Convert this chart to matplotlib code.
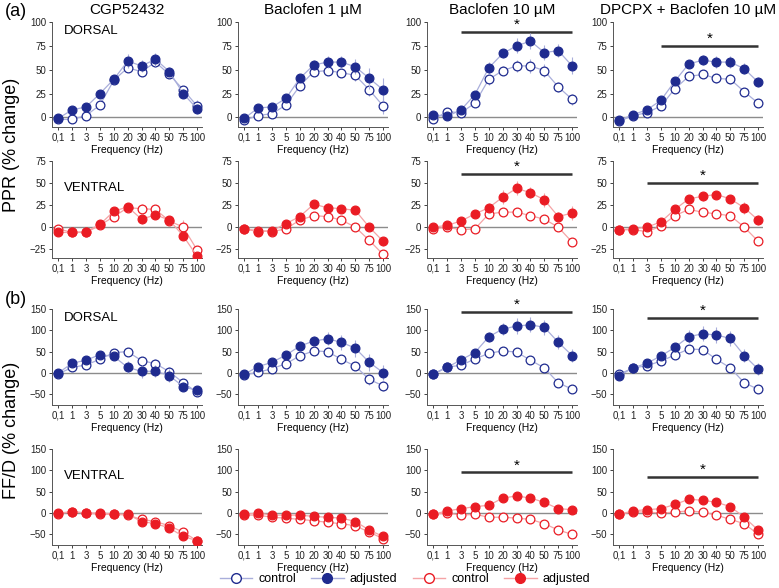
import numpy as np
import matplotlib
matplotlib.use('Agg')
import matplotlib.pyplot as plt
from matplotlib.lines import Line2D

plt.rcParams['font.family'] = ['Liberation Sans', 'DejaVu Sans']

# frequencies on the categorical x axis
freq_labels = ['0,1', '1', '3', '5', '10', '20', '30', '40', '50', '75', '100']
titles = ['CGP52432', 'Baclofen 1 µM', 'Baclofen 10 µM', 'DPCPX + Baclofen 10 µM']

# PPR dorsal
ppr_d_ctrl = [[-2, -2, 2, 13, 39, 52, 48, 58, 45, 29, 12],
              [-3, 2, 4, 13, 33, 48, 49, 47, 44, 29, 12],
              [-2, 6, 5, 15, 40, 49, 54, 54, 49, 32, 19],
              [-4, 2, 5, 12, 30, 43, 45, 41, 40, 27, 15]]
ppr_d_adj = [[-1, 8, 11, 25, 40, 59, 54, 61, 48, 25, 9],
             [-1, 10, 11, 20, 41, 55, 58, 58, 53, 41, 29],
             [3, 1, 8, 24, 52, 67, 75, 80, 68, 70, 54],
             [-3, 3, 8, 18, 38, 56, 60, 58, 58, 51, 37]]
ppr_d_ctrl_err = [[2, 2, 2, 3, 3, 4, 4, 5, 4, 4, 6],
                  [2, 2, 2, 3, 4, 4, 5, 5, 6, 7, 8],
                  [2, 2, 3, 4, 6, 5, 6, 7, 7, 5, 6],
                  [2, 2, 2, 3, 3, 3, 4, 5, 5, 3, 3]]
ppr_d_adj_err = [[2, 2, 4, 2, 3, 7, 6, 7, 5, 5, 5],
                 [2, 2, 3, 3, 3, 5, 6, 6, 8, 11, 12],
                 [2, 2, 3, 3, 6, 5, 8, 8, 8, 7, 9],
                 [2, 2, 2, 3, 4, 4, 5, 6, 6, 6, 5]]

# PPR ventral
ppr_v_ctrl = [[-2, -6, -6, 2, 12, 22, 21, 20, 7, 0, -26],
              [-2, -4, -5, -2, 8, 13, 12, 8, 0, -15, -31],
              [-2, 0, -3, -2, 15, 17, 17, 13, 9, 0, -17],
              [-3, -3, -5, 1, 13, 20, 17, 15, 13, 0, -16]]
ppr_v_adj = [[-6, -6, -5, 3, 18, 23, 9, 14, 8, -10, -33],
             [-2, -5, -4, 4, 12, 26, 22, 21, 19, 0, -16],
             [0, 2, 7, 15, 22, 34, 44, 39, 31, 12, 16],
             [-3, -2, 0, 6, 20, 32, 35, 37, 32, 22, 8]]
ppr_v_ctrl_err = [[3, 3, 3, 3, 4, 4, 5, 4, 4, 8, 4],
                  [2, 2, 2, 3, 4, 4, 5, 4, 4, 4, 4],
                  [3, 3, 4, 3, 4, 4, 5, 4, 5, 3, 4],
                  [2, 2, 2, 3, 3, 3, 4, 3, 3, 3, 3]]
ppr_v_adj_err = [[4, 3, 3, 3, 3, 4, 6, 4, 4, 3, 3],
                 [2, 3, 2, 3, 4, 4, 5, 4, 4, 4, 5],
                 [3, 3, 4, 4, 5, 8, 8, 6, 8, 5, 8],
                 [2, 2, 3, 3, 4, 5, 5, 4, 5, 7, 6]]

# FF/D dorsal
ffd_d_ctrl = [[-2, 13, 19, 32, 48, 50, 29, 22, 3, -23, -45],
              [-5, 2, 10, 22, 40, 52, 50, 32, 16, -15, -30],
              [-2, 14, 18, 33, 46, 52, 49, 30, 12, -23, -38],
              [-3, 12, 17, 28, 42, 56, 55, 32, 12, -23, -38]]
ffd_d_adj = [[0, 23, 30, 43, 39, 13, 4, 4, -6, -32, -41],
             [-3, 15, 25, 42, 63, 75, 80, 72, 58, 25, 1],
             [-3, 13, 31, 48, 85, 103, 110, 113, 107, 72, 41],
             [-6, 12, 23, 40, 60, 85, 92, 89, 81, 41, 9]]
ffd_d_ctrl_err = [[3, 4, 4, 5, 6, 8, 8, 10, 10, 8, 10],
                  [4, 4, 4, 5, 6, 6, 8, 10, 10, 12, 12],
                  [4, 4, 5, 5, 7, 6, 8, 8, 10, 6, 6],
                  [4, 4, 4, 5, 6, 6, 8, 9, 10, 6, 5]]
ffd_d_adj_err = [[4, 5, 5, 6, 8, 14, 15, 14, 15, 10, 10],
                 [4, 5, 6, 7, 9, 12, 15, 18, 20, 20, 18],
                 [4, 5, 6, 7, 12, 15, 18, 18, 18, 16, 15],
                 [4, 5, 6, 7, 10, 15, 18, 18, 18, 16, 14]]

# FF/D ventral
ffd_v_ctrl = [[-2, 3, 0, -3, -3, -5, -15, -20, -30, -45, -65],
              [-5, -5, -10, -12, -15, -18, -22, -25, -30, -45, -60],
              [-3, 0, -5, -3, -10, -10, -12, -15, -25, -40, -50],
              [-3, 3, 2, 0, 2, 5, 2, -5, -15, -25, -50]]
ffd_v_adj = [[0, 3, 0, 0, -2, -3, -20, -25, -35, -55, -65],
             [-3, 0, -5, -5, -5, -8, -10, -12, -20, -40, -55],
             [-3, 5, 10, 15, 18, 35, 40, 35, 25, 10, 8],
             [-3, 5, 8, 10, 20, 32, 30, 25, 15, -10, -40]]
ffd_v_ctrl_err = [[3, 3, 3, 4, 4, 5, 6, 6, 7, 7, 7],
                  [3, 3, 4, 4, 5, 5, 6, 6, 7, 8, 8],
                  [3, 3, 4, 4, 5, 5, 6, 6, 7, 7, 7],
                  [3, 3, 4, 4, 5, 5, 6, 6, 7, 7, 7]]
ffd_v_adj_err = [[3, 3, 3, 4, 4, 5, 6, 6, 7, 7, 7],
                 [3, 3, 4, 4, 5, 5, 6, 6, 7, 8, 8],
                 [3, 4, 5, 6, 7, 8, 9, 9, 9, 9, 9],
                 [3, 4, 5, 6, 7, 8, 9, 9, 9, 9, 9]]

# significance bars: (start index, end index, height) per panel, None if absent
sig_ppr_d = [None, None, (2, 10, 90), (3, 10, 75)]
sig_ppr_v = [None, None, (2, 10, 60), (2, 10, 50)]
sig_ffd_d = [None, None, (2, 10, 143), (2, 10, 130)]
sig_ffd_v = [None, None, (2, 10, 95), (2, 10, 85)]

BLUE = '#1f2b8f'
BLUE_L = '#a9aedb'
RED = '#ea1c24'
RED_L = '#f5a3a5'

rows = [
    (ppr_d_ctrl, ppr_d_adj, ppr_d_ctrl_err, ppr_d_adj_err, sig_ppr_d, BLUE, BLUE_L,
     (-10, 100), [0, 25, 50, 75, 100], 'DORSAL', 22, 105),
    (ppr_v_ctrl, ppr_v_adj, ppr_v_ctrl_err, ppr_v_adj_err, sig_ppr_v, RED, RED_L,
     (-35, 75), [-25, 0, 25, 50, 75], 'VENTRAL', 161, 97),
    (ffd_d_ctrl, ffd_d_adj, ffd_d_ctrl_err, ffd_d_adj_err, sig_ffd_d, BLUE, BLUE_L,
     (-75, 150), [-50, 0, 50, 100, 150], 'DORSAL', 309, 96),
    (ffd_v_ctrl, ffd_v_adj, ffd_v_ctrl_err, ffd_v_adj_err, sig_ffd_v, RED, RED_L,
     (-75, 150), [-50, 0, 50, 100, 150], 'VENTRAL', 449, 96),
]
col_left = [52, 238, 427, 613]
col_w = 150

W, H = 779, 588
fig = plt.figure(figsize=(W / 100, H / 100), dpi=100)
x = np.arange(len(freq_labels))

for r, (ctrl, adj, ctrl_e, adj_e, sigs, dark, light, ylim, yt, region, top, hgt) in enumerate(rows):
    for c in range(4):
        ax = fig.add_axes([col_left[c] / W, 1 - (top + hgt) / H, col_w / W, hgt / H])
        ax.axhline(0, color='#8c8c8c', lw=1, zorder=1)
        ax.errorbar(x, ctrl[c], yerr=ctrl_e[c], color=light, lw=0.9, elinewidth=0.8,
                    capsize=0, marker='o', ms=6.3, mfc='white', mec=dark, mew=0.9, zorder=3)
        ax.errorbar(x, adj[c], yerr=adj_e[c], color=light, lw=0.9, elinewidth=0.8,
                    capsize=0, marker='o', ms=6.3, mfc=dark, mec=dark, mew=0.9, zorder=4)
        ax.set_xlim(-0.45, 10.35)
        ax.set_ylim(*ylim)
        ax.set_yticks(yt)
        ax.set_xticks(x)
        ax.set_xticklabels(freq_labels)
        ax.tick_params(labelsize=7, length=2, width=0.6, pad=2, colors='#222222')
        for s in ['top', 'right']:
            ax.spines[s].set_visible(False)
        for s in ['left', 'bottom']:
            ax.spines[s].set_color('#555555')
            ax.spines[s].set_linewidth(0.7)
        ax.set_xlabel('Frequency (Hz)', fontsize=7.5, labelpad=2)
        if sigs[c] is not None:
            s0, s1, h = sigs[c]
            ax.plot([s0, s1], [h, h], color='#333333', lw=1.8, solid_capstyle='butt', zorder=2)
            ax.text((s0 + s1) / 2, h, '*', ha='center', va='bottom', fontsize=11)
        if c == 0:
            ypos = 0.97 if r in (0, 2) else 0.78
            ax.text(0.08, ypos, region, transform=ax.transAxes, fontsize=9.5,
                    ha='left', va='top')
        if r == 0:
            ax.set_title(titles[c], fontsize=11, pad=6)

fig.text(5 / W, 1 - 12 / H, '(a)', fontsize=13, ha='left', va='center')
fig.text(5 / W, 1 - 300 / H, '(b)', fontsize=13, ha='left', va='center')
fig.text(12 / W, 1 - 145 / H, 'PPR (% change)', fontsize=13, rotation=90, ha='center', va='center')
fig.text(12 / W, 1 - 430 / H, 'FF/D (% change)', fontsize=13, rotation=90, ha='center', va='center')

handles = [
    Line2D([], [], color=BLUE_L, marker='o', ms=7, mfc='white', mec=BLUE, lw=1),
    Line2D([], [], color=BLUE_L, marker='o', ms=7, mfc=BLUE, mec=BLUE, lw=1),
    Line2D([], [], color=RED_L, marker='o', ms=7, mfc='white', mec=RED, lw=1),
    Line2D([], [], color=RED_L, marker='o', ms=7, mfc=RED, mec=RED, lw=1),
]
fig.legend(handles, ['control', 'adjusted', 'control', 'adjusted'], ncol=4,
           loc='center', bbox_to_anchor=(405 / W, 1 - 579 / H), frameon=False,
           fontsize=9, handlelength=2.6, columnspacing=1.2, handletextpad=0.5,
           borderpad=0.1)

fig.savefig('out.png', dpi=100)
